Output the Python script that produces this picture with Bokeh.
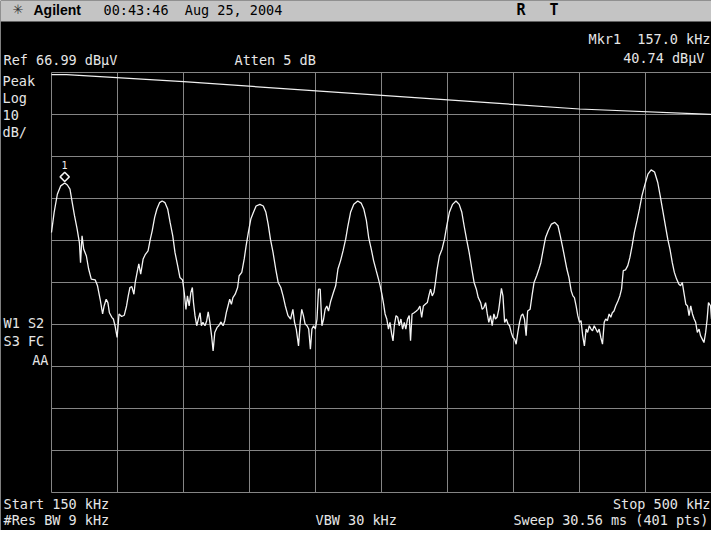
from bokeh.plotting import figure
from bokeh.models import Label, Range1d
from bokeh.embed import file_html
from bokeh.resources import INLINE

start_khz = 150.0
stop_khz = 500.0
ref_level = 66.99          # dBuV at top of graticule
db_per_div = 10.0
n_div = 10

freq_khz = [
    150.0, 151.4, 153.1, 154.9, 157.0, 158.4, 159.8, 161.0, 162.2, 163.6,
    164.8, 165.4, 166.2, 167.1, 168.5, 169.7, 171.1, 173.2, 174.4, 175.8,
    177.1, 177.9, 179.0, 179.9, 180.7, 182.0, 182.8, 183.7, 184.8, 185.8,
    187.2, 188.6, 189.8, 190.7, 191.6, 192.6, 193.7, 194.4, 195.4, 196.3,
    197.3, 198.6, 199.8, 201.2, 202.4, 203.4, 204.7, 205.9, 207.3, 208.7,
    210.2, 211.6, 212.9, 214.3, 215.5, 216.9, 218.1, 219.5, 220.4, 221.3,
    222.1, 223.0, 223.9, 224.7, 225.3, 226.1, 227.0, 227.9, 228.8, 229.5,
    230.3, 231.4, 232.3, 233.1, 234.0, 234.9, 235.7, 236.6, 237.8, 238.7,
    239.9, 241.0, 241.9, 242.7, 243.6, 244.5, 245.4, 246.2, 247.4, 248.7,
    249.5, 250.9, 252.2, 253.2, 254.4, 255.7, 257.1, 258.5, 260.5, 262.3,
    263.7, 264.9, 266.1, 267.5, 268.9, 270.2, 271.6, 272.8, 274.0, 275.4,
    276.8, 278.0, 278.9, 279.8, 281.0, 281.9, 282.7, 283.6, 284.5, 285.5,
    286.4, 287.3, 288.1, 289.0, 289.9, 290.8, 291.6, 292.5, 293.4, 294.3,
    295.1, 296.0, 296.9, 298.1, 299.5, 300.7, 301.9, 303.3, 304.6, 306.0,
    307.2, 308.6, 310.3, 312.4, 314.2, 315.6, 317.0, 318.2, 319.6, 320.8,
    322.2, 323.4, 324.3, 325.2, 326.0, 326.9, 327.8, 328.7, 329.5, 330.4,
    331.1, 331.8, 332.7, 333.6, 334.4, 335.3, 336.2, 337.1, 337.9, 338.8,
    339.7, 340.4, 341.2, 342.3, 343.5, 344.4, 345.4, 346.3, 347.2, 348.2,
    349.3, 350.1, 351.0, 351.9, 352.8, 353.6, 354.5, 355.7, 357.1, 358.4,
    359.6, 361.0, 362.7, 364.5, 366.2, 367.6, 368.8, 370.1, 371.5, 372.9,
    374.1, 375.3, 376.3, 377.6, 378.4, 379.3, 380.2, 381.1, 381.9, 382.8,
    383.7, 384.6, 385.4, 386.3, 387.2, 388.1, 388.6, 389.4, 390.3, 391.2,
    392.1, 392.9, 393.8, 394.7, 395.6, 396.4, 397.3, 398.2, 399.1, 399.9,
    400.8, 401.7, 402.5, 403.8, 404.8, 405.9, 407.3, 408.5, 409.5, 410.8,
    412.0, 413.4, 415.1, 416.9, 418.6, 419.8, 420.9, 422.1, 423.3, 424.4,
    425.6, 426.5, 427.3, 428.2, 429.1, 430.0, 430.8, 431.7, 432.6, 433.5,
    434.3, 435.2, 436.1, 436.9, 437.8, 438.7, 439.6, 440.4, 441.3, 442.2,
    443.1, 443.9, 444.8, 445.7, 446.6, 447.4, 448.3, 449.2, 450.4, 451.4,
    452.3, 453.2, 454.4, 455.6, 456.7, 457.9, 459.1, 460.5, 461.8, 463.1,
    464.5, 466.3, 468.0, 469.8, 471.5, 472.8, 474.0, 475.4, 476.8, 478.0,
    479.2, 480.3, 481.5, 482.7, 483.6, 484.5, 485.5, 486.4, 487.3, 488.1,
    489.0, 489.9, 490.8, 491.6, 492.5, 493.4, 494.2, 495.1, 496.0, 496.9,
    497.7, 498.4, 499.5, 500.0,
]

level_dbuv = [
    28.9, 33.7, 38.0, 40.0, 40.7, 40.2, 39.2, 36.0, 32.9, 29.7,
    26.5, 21.7, 28.1, 24.9, 23.3, 20.2, 17.8, 17.6, 16.2, 13.0,
    9.5, 11.4, 13.0, 12.2, 9.8, 8.7, 8.3, 6.7, 3.9, 9.5,
    8.9, 9.2, 11.4, 13.8, 15.8, 16.0, 14.2, 17.0, 19.4, 21.4,
    19.0, 22.6, 23.7, 24.5, 27.3, 29.3, 32.5, 34.5, 36.0, 36.4,
    36.0, 34.5, 31.3, 28.1, 24.1, 21.0, 18.2, 17.6, 14.6, 10.6,
    13.8, 11.4, 14.6, 15.8, 12.2, 9.1, 6.7, 8.3, 9.8, 6.7,
    7.5, 6.7, 7.9, 10.0, 7.5, 4.3, 0.7, 5.1, 6.3, 6.7,
    7.6, 6.7, 7.9, 9.8, 11.4, 13.0, 11.8, 13.4, 14.2, 15.8,
    18.6, 19.4, 22.6, 25.7, 28.9, 32.1, 33.7, 35.2, 35.6, 35.2,
    33.7, 30.9, 27.3, 24.1, 20.2, 17.0, 15.8, 13.8, 11.4, 9.1,
    8.3, 10.6, 7.5, 5.9, 1.9, 7.5, 10.6, 9.1, 7.1, 6.7,
    5.9, 1.1, 5.9, 6.7, 5.9, 8.3, 15.4, 15.4, 6.7, 8.3,
    10.6, 11.4, 10.2, 12.6, 14.6, 16.2, 20.2, 22.2, 24.5, 27.3,
    30.5, 33.7, 35.6, 36.4, 35.9, 34.5, 31.7, 27.7, 24.9, 22.2,
    19.8, 17.8, 16.2, 14.2, 12.2, 9.5, 8.3, 5.9, 7.5, 4.7,
    3.1, 6.7, 9.1, 8.7, 6.7, 8.3, 5.9, 7.5, 5.9, 8.3,
    9.1, 3.1, 9.5, 9.8, 10.2, 10.6, 11.4, 8.7, 11.4, 11.8,
    12.2, 13.8, 15.4, 13.8, 14.6, 17.0, 20.2, 23.3, 24.9, 27.3,
    30.5, 33.7, 35.6, 36.4, 35.6, 33.7, 30.5, 27.3, 24.1, 20.2,
    17.0, 15.4, 13.4, 12.2, 10.6, 11.0, 12.2, 9.5, 7.5, 9.1,
    6.7, 9.5, 8.3, 8.7, 10.6, 13.8, 15.6, 13.8, 7.5, 8.3,
    7.1, 6.7, 5.1, 3.9, 3.5, 2.3, 5.1, 7.5, 9.1, 9.5,
    8.3, 4.3, 10.2, 10.6, 13.8, 17.0, 18.6, 20.2, 21.7, 24.9,
    27.7, 29.3, 30.9, 31.3, 30.5, 28.1, 25.7, 23.0, 20.2, 18.2,
    15.0, 13.8, 13.4, 11.4, 9.1, 7.5, 7.9, 4.3, 1.9, 5.9,
    5.1, 6.7, 5.9, 5.5, 6.7, 5.9, 5.1, 5.9, 3.9, 2.3,
    7.5, 8.3, 7.9, 9.5, 8.7, 9.8, 10.2, 11.4, 12.6, 13.8,
    15.4, 19.8, 20.0, 21.0, 22.9, 25.7, 28.9, 31.7, 34.5, 37.6,
    40.0, 42.8, 43.8, 43.3, 40.8, 37.6, 34.5, 30.9, 27.3, 24.9,
    21.7, 19.4, 17.8, 16.6, 16.2, 17.0, 14.2, 11.8, 11.4, 9.1,
    11.4, 9.5, 8.3, 7.5, 5.1, 5.9, 4.3, 3.5, 2.7, 5.1,
    8.3, 12.2, 11.4, 8.3,
]

# limit line (segmented, falling with frequency)
limit_freq_khz = [150, 158, 220, 430, 500]
limit_dbuv = [66.5, 66.5, 64.8, 58.3, 57.0]

mkr_freq_khz = 157.0
mkr_level_dbuv = 40.74

NB = "\u00a0"
header_texts = ["Agilent", "00:43:46" + NB * 2 + "Aug 25, 2004", "R", "T"]
settings = {
    "ref": "Ref 66.99 dB\u00b5V",
    "atten": "Atten 5 dB",
    "mkr": "Mkr1" + NB * 2 + "157.0 kHz",
    "mkr_val": "40.74 dB\u00b5V",
    "start": "Start 150 kHz",
    "stop": "Stop 500 kHz",
    "rbw": "#Res BW 9 kHz",
    "vbw": "VBW 30 kHz",
    "sweep": "Sweep 30.56 ms (401 pts)",
}
left_block = ["Peak", "Log", "10", "dB/"]
status_block = ["W1" + NB + "S2", "S3" + NB + "FC", "AA"]

# ---------------- screen geometry (pixels) ----------------
W, H = 711, 530              # whole instrument screen
GR_L, GR_T, GR_B = 51, 72, 492   # graticule edges inside the canvas
PAGE = 8                      # page margin
BAR_H = 21                    # grey title bar
span_db = db_per_div * n_div
bottom_level = ref_level - span_db
kpp = (stop_khz - start_khz) / (W - GR_L)       # kHz per pixel
dpp = span_db / (GR_B - GR_T)                  # dB per pixel
x_lo = start_khz - GR_L * kpp
y_hi = ref_level + GR_T * dpp
y_lo = bottom_level - (H - GR_B) * dpp

FG = "#e6e6e6"
GRID = "#858585"
MONO = "DejaVu Sans Mono"
FS = "13.5px"


def dx(page_x):
    return x_lo + (page_x - PAGE) * kpp


def dy(page_y):
    return y_hi - (page_y - PAGE) * dpp


p = figure(width=W, height=H, x_range=Range1d(x_lo, stop_khz),
           y_range=Range1d(y_lo, y_hi),
           output_backend="svg", toolbar_location=None,
           x_axis_location=None, y_axis_location=None,
           min_border=0, background_fill_color="black",
           border_fill_color="black", outline_line_color=None)
p.grid.visible = False

# title bar
p.quad(left=[x_lo], right=[stop_khz], bottom=[dy(PAGE + BAR_H)], top=[y_hi],
       fill_color="#c4c4c4", line_color=None)

# graticule
xt = [start_khz + i * (stop_khz - start_khz) / n_div for i in range(n_div + 1)]
yt = [bottom_level + i * db_per_div for i in range(n_div + 1)]
p.segment(x0=xt, y0=[bottom_level] * len(xt), x1=xt, y1=[ref_level] * len(xt),
          line_color=GRID, line_width=1)
p.segment(x0=[start_khz] * len(yt), y0=yt, x1=[stop_khz] * len(yt), y1=yt,
          line_color=GRID, line_width=1)

p.line(limit_freq_khz, limit_dbuv, line_color="#f0f0f0", line_width=1.2)
p.line(freq_khz, level_dbuv, line_color="#f4f4f4", line_width=1.3)

# marker
p.scatter([mkr_freq_khz], [mkr_level_dbuv + 1.4], marker="square", angle=0.785398,
          size=6.5, fill_color=None, line_color="#f4f4f4", line_width=1.5)


def lab(text, page_x, page_y, align="left", color=FG, font=MONO, size=FS, style="normal"):
    p.add_layout(Label(x=dx(page_x), y=dy(page_y), text=text, text_font=font,
                       text_font_size=size, text_color=color, text_align=align,
                       text_baseline="middle", text_font_style=style))


lab("1", 72, 172, "center", size="10px", color="#f0f0f0")

lab("\u2733", 20, 17, color="#333333", font="DejaVu Sans", size="13px")
lab(header_texts[0], 41, 17, color="black", font="Liberation Sans", size="14px", style="bold")
lab(header_texts[1], 111, 17, color="black")
lab(header_texts[2], 524, 17, color="black", size="15px", style="bold")
lab(header_texts[3], 557, 17, color="black", size="15px", style="bold")

lab(settings["ref"], 11, 67)
lab(settings["atten"], 242, 67)
lab(settings["mkr"], 718, 46, "right")
lab(settings["mkr_val"], 712, 65, "right")
for i, t in enumerate(left_block):
    lab(t, 10, 88 + 17 * i)
lab(status_block[0], 11, 330)
lab(status_block[1], 11, 348)
lab(status_block[2], 56, 367, "right")
lab(settings["start"], 11, 511)
lab(settings["stop"], 718, 511, "right")
lab(settings["rbw"], 11, 527)
lab(settings["vbw"], 323, 527)
lab(settings["sweep"], 716, 527, "right")

open("out.html", "w").write(file_html(p, INLINE))
